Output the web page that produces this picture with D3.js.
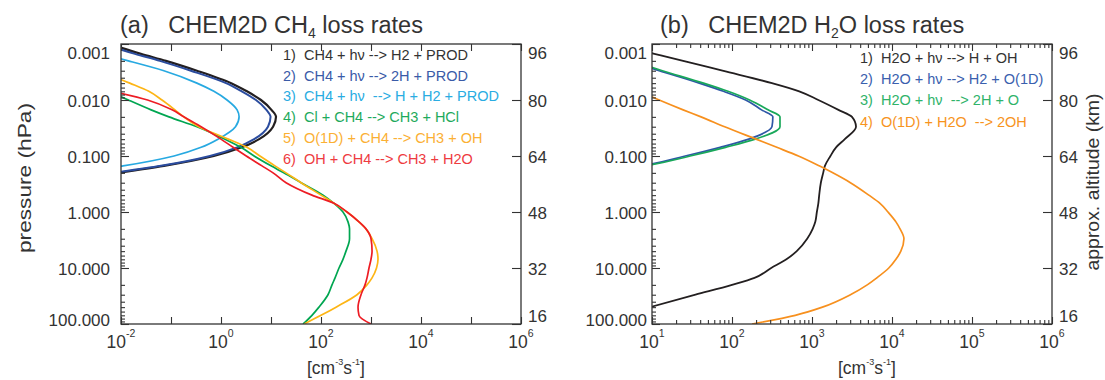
<!DOCTYPE html>
<html><head><meta charset="utf-8">
<script src="https://cdn.jsdelivr.net/npm/d3@7"></script>
<style>
body{margin:0;background:#fff}
svg{display:block}
text{font-family:"Liberation Sans",Arial,Helvetica,sans-serif;fill:#333;white-space:pre}
</style></head>
<body><svg id="c" width="1105" height="380"></svg>
<script>
// ---------------- data ----------------
const pressureLevels = [0.001,0.0015,0.002,0.003,0.005,0.007,0.01,0.015,0.02,0.03,0.05,0.07,0.1,0.15,0.2,0.3,0.5,0.7,1,1.5,2,3,5,7,10,15,20,30,50,70,100];
const N16 = Array(16).fill(null);

// panel (a) CH4 loss rates [cm^-3 s^-1]
const ch4Labels = ["1)  CH4 + h\u03bd --> H2 + PROD","2)  CH4 + h\u03bd --> 2H + PROD","3)  CH4 + h\u03bd  --> H + H2 + PROD","4)  Cl + CH4 --> CH3 + HCl","5)  O(1D) + CH4 --> CH3 + OH","6)  OH + CH4 --> CH3 + H2O"];
const ch4Colors = ["#231f20","#2b4c9e","#27a9e1","#00a651","#fdb515","#ed1c24"];
const ch4TextColors = ["#333333","#3a5ba8","#2aace2","#1eaa5c","#fbb034","#ee3b3f"];
const ch4_hv_H2   = [5.8e-3,2.5e-2,7.9e-2,0.33,1.6,3.3,6.3,10.2,12.6,11,5.8,2.6,0.72,0.072,0.0087, ...N16];
const ch4_hv_2H   = [4.5e-3,1.9e-2,6.0e-2,0.25,1.26,2.6,5.0,8.1,9.8,8.7,4.6,2.1,0.6,0.063,7.1e-3, ...N16];
const ch4_hv_H_H2 = [7.9e-4,4.0e-3,1.4e-2,7.2e-2,0.33,0.72,1.32,2.1,2.3,1.95,0.87,0.4,0.115,0.011,1.0e-3, ...N16];
const ch4_Cl      = [null,null,null,null,2.5e-3,5.8e-3,1.4e-2,4.0e-2,9.1e-2,0.33,1.2,2.5,4.6,10,18,40,110,182,275,347,372,372,316,275,229,191,166,138,91,66,44];
const ch4_O1D     = [1.7e-4,5.2e-4,1.2e-3,3.6e-3,1.5e-2,3.6e-2,6.6e-2,0.12,0.18,0.36,1.4,3.3,6.0,12,20,40,100,182,331,575,794,1050,1320,1380,1290,1050,830,525,200,100,46];
const ch4_OH      = [null,null,null,null,null,6.6e-3,3.4e-2,0.105,0.18,0.4,1.0,1.74,3.2,6.6,11,20,66,182,331,575,794,1000,1050,1000,912,832,759,631,550,575,1000];

// panel (b) H2O loss rates [cm^-3 s^-1]
const h2oLabels = ["1)  H2O + h\u03bd --> H + OH","2)  H2O + h\u03bd --> H2 + O(1D)","3)  H2O + h\u03bd  --> 2H + O","4)  O(1D) + H2O  --> 2OH"];
const h2oColors = ["#231f20","#2e57a6","#19a85a","#f7901e"];
const h2oTextColors = ["#333333","#3a60ae","#2fb36a","#f7941d"];
const h2o_hv_H_OH   = [3.3,10.7,24.5,76,316,692,1200,2140,3160,3550,2570,2000,1700,1450,1380,1290,1230,1200,1150,1100,1020,870,645,479,309,191,100,35,9.5,null,null];
const h2o_hv_H2_O1D = [null,2.7,5.0,12.3,39,78,148,234,324,316,162,71,26,7.1,1.26, ...N16];
const h2o_hv_2H_O   = [null,2.95,5.5,13.5,44,89,166,282,398,398,195,83,30,7.9,1.41, ...N16];
const h2o_O1D       = [null,null,null,null,3.9,6.9,12.3,24.5,41,81,200,363,676,1230,1820,3020,5130,7080,8910,11200,12600,14100,12900,11200,9120,6460,4900,3020,1350,617,178];

// axes ticks
const pressureTicks = [0.001,0.01,0.1,1,10,100];
const altitudeTicks = [16,32,48,64,80,96];
const xTicksA = [-2,-1,0,1,2,3,4,5,6];          // decade exponents, panel a
const xLabelsA = [-2,0,2,4,6];
const xTicksB = [1,2,3,4,5,6];
const xLabelsB = [1,2,3,4,5,6];

// ---------------- drawing ----------------
const svg = d3.select("#c");
const plotTop = 44, plotBottom = 324;
const yP = d3.scaleLog().domain([0.001,100]).range([plotTop,plotBottom]);
const yAlt = d3.scaleLinear().domain([96,16]).range([plotTop,plotBottom]);
const minorP = [];
for (let d=0.001; d<100; d*=10) for (let k=2;k<=9;k++) minorP.push(+(k*d).toPrecision(3));

function panel(cfg){
  const g = svg.append("g");
  const x = d3.scaleLog().domain(cfg.domain).range([cfg.x0,cfg.x1]);
  const id = "clip"+cfg.key;
  svg.append("clipPath").attr("id",id).append("rect")
     .attr("x",cfg.x0).attr("y",plotTop).attr("width",cfg.x1-cfg.x0).attr("height",plotBottom-plotTop);

  // curves
  const line = d3.line().defined(d=>d[1]!=null)
     .x(d=>x(d[1])).y(d=>yP(d[0])).curve(d3.curveMonotoneY);
  const cg = g.append("g").attr("clip-path",`url(#${id})`);
  cfg.series.forEach((s,i)=>{
    cg.append("path").datum(pressureLevels.map((p,j)=>[p,s[j]]))
      .attr("d",line).attr("fill","none").attr("stroke",cfg.colors[i])
      .attr("stroke-width",cfg.widths[i]).attr("stroke-linejoin","round");
  });

  // frame
  g.append("rect").attr("x",cfg.x0).attr("y",plotTop).attr("width",cfg.x1-cfg.x0).attr("height",plotBottom-plotTop)
   .attr("fill","none").attr("stroke","#333").attr("stroke-width",1.3);

  const axStyle = sel=>{sel.select(".domain").remove(); sel.selectAll("line").attr("stroke","#333").attr("stroke-width",1.1);};

  // left pressure axis
  const la = g.append("g").attr("transform",`translate(${cfg.x0},0)`)
     .call(d3.axisLeft(yP).tickValues(pressureTicks).tickFormat(d3.format(".3f")).tickSize(-8).tickPadding(cfg.leftPad));
  axStyle(la);
  la.selectAll("text").attr("font-size",17).attr("fill","#333").attr("font-family",null)
    .attr("dy",(d)=> d===0.001? "0.85em" : d===100 ? "0.1em" : "0.38em");
  g.append("g").attr("transform",`translate(${cfg.x0},0)`)
     .call(d3.axisLeft(yP).tickValues(minorP).tickFormat("").tickSize(-4)).call(axStyle);

  // right altitude axis
  const ra = g.append("g").attr("transform",`translate(${cfg.x1},0)`)
     .call(d3.axisRight(yAlt).tickValues(altitudeTicks).tickFormat(d3.format("d")).tickSize(-9).tickPadding(7));
  axStyle(ra);
  ra.selectAll("text").attr("font-size",17).attr("fill","#333").attr("font-family",null)
    .attr("dy",(d)=> d===96? "0.85em" : d===16 ? "-0.12em" : "0.38em");

  // x axes (bottom + top) decade ticks
  const maj = cfg.xTicks.map(e=>Math.pow(10,e));
  const minX = [];
  if (cfg.minorX) for (let e=cfg.xTicks[0]; e<cfg.xTicks[cfg.xTicks.length-1]; e++) for (let k=2;k<=9;k++) minX.push(k*Math.pow(10,e));
  [[d3.axisBottom,plotBottom],[d3.axisTop,plotTop]].forEach(([ax,yy])=>{
    g.append("g").attr("transform",`translate(0,${yy})`)
      .call(ax(x).tickValues(maj).tickFormat("").tickSize(-7)).call(axStyle);
    if (minX.length) g.append("g").attr("transform",`translate(0,${yy})`)
      .call(ax(x).tickValues(minX).tickFormat("").tickSize(-4)).call(axStyle);
  });
  // x labels
  const xl = g.append("g");
  cfg.xLabels.forEach(e=>{
    const t = xl.append("text").attr("x",x(Math.pow(10,e))).attr("y",348).attr("text-anchor","middle").attr("font-size",17.5);
    t.append("tspan").text("10");
    t.append("tspan").attr("font-size",10.5).attr("dy",-11).text(String(e));
  });
  // x title
  const xt = g.append("text").attr("x",cfg.unitX).attr("y",374).attr("font-size",17.5);
  xt.append("tspan").text("[cm");
  xt.append("tspan").attr("font-size",9).attr("dy",-9).text("-3");
  xt.append("tspan").attr("dy",9).text("s");
  xt.append("tspan").attr("font-size",9).attr("dy",-9).text("-1");
  xt.append("tspan").attr("dy",9).text("]");

  // title
  const tt = g.append("text").attr("x",cfg.titleX).attr("y",33).attr("font-size",23.5).attr("fill","#222");
  tt.append("tspan").text(cfg.title[0]);
  tt.append("tspan").attr("font-size",14).attr("dy",5).text(cfg.title[1]);
  tt.append("tspan").attr("dy",-5).text(cfg.title[2]);

  // legend
  cfg.labels.forEach((lab,i)=>{
    g.append("text").attr("x",cfg.legX).attr("y",cfg.legY+i*cfg.legDy).attr("font-size",14.5)
      .style("fill",cfg.textColors[i]).text(lab);
  });
}

panel({key:"a", domain:[1e-2,1e6], x0:121, x1:521, leftPad:11,
  series:[ch4_hv_H2,ch4_hv_2H,ch4_hv_H_H2,ch4_Cl,ch4_O1D,ch4_OH],
  colors:ch4Colors, textColors:ch4TextColors, widths:[2.2,2,1.7,1.7,1.7,1.7],
  xTicks:xTicksA, xLabels:xLabelsA, minorX:false, unitX:307,
  title:["(a)   CHEM2D CH","4"," loss rates"], titleX:120,
  labels:ch4Labels, legX:283, legY:60, legDy:20.7});

panel({key:"b", domain:[1e1,1e6], x0:652, x1:1052, leftPad:5,
  series:[h2o_hv_H_OH,h2o_hv_H2_O1D,h2o_hv_2H_O,h2o_O1D],
  colors:h2oColors, textColors:h2oTextColors, widths:[1.8,1.7,1.7,1.7],
  xTicks:xTicksB, xLabels:xLabelsB, minorX:true, unitX:838,
  title:["(b)   CHEM2D H","2","O loss rates"], titleX:660,
  labels:h2oLabels, legX:860, legY:63, legDy:21.2});

// axis titles
svg.append("text").attr("transform","translate(31,178) rotate(-90)").attr("text-anchor","middle")
   .attr("font-size",19).attr("textLength",150).attr("lengthAdjust","spacingAndGlyphs").text("pressure (hPa)");
svg.append("text").attr("transform","translate(1099,182) rotate(-90)").attr("text-anchor","middle")
   .attr("font-size",17.5).attr("textLength",177).attr("lengthAdjust","spacingAndGlyphs").text("approx. altitude (km)");
</script></body></html>
